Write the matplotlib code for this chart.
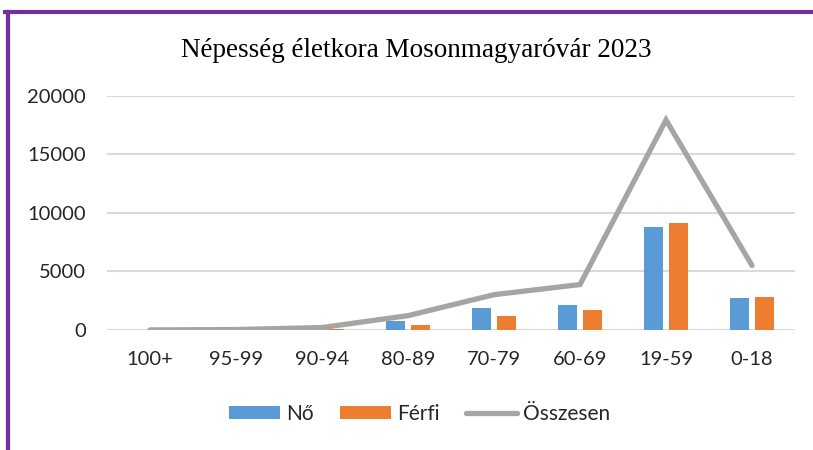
import matplotlib.pyplot as plt
from matplotlib.lines import Line2D
from matplotlib.patches import Patch
import numpy as np

# --- adatok ---
korcsoportok = ["100+", "95-99", "90-94", "80-89", "70-79", "60-69", "19-59", "0-18"]
no = [4, 30, 150, 800, 1850, 2150, 8800, 2700]
ferfi = [1, 10, 60, 425, 1165, 1730, 9130, 2805]
osszesen = [5, 40, 210, 1225, 3015, 3880, 17930, 5505]

KEK = "#5B9BD5"
NARANCS = "#ED7D31"
SZURKE = "#A5A5A5"
RACS = "#D9D9D9"
SZOVEG = "#262626"

plt.rcParams['font.family'] = ['Lato', 'DejaVu Sans']

fig = plt.figure(figsize=(8.13, 4.5), dpi=100)
# rajzterület: x 107..795 px, y 0 -> 330 px, 20000 -> 95.7 px
ax = fig.add_axes([107 / 813, 120 / 450, 688 / 813, 234.3 / 450])

x = np.arange(len(korcsoportok))
w = 0.221
ax.bar(x - 0.141, no, width=w, color=KEK, zorder=2)
ax.bar(x + 0.141, ferfi, width=w, color=NARANCS, zorder=2)
ax.plot(x, osszesen, color=SZURKE, lw=3.8,
        solid_capstyle="round", solid_joinstyle="miter", zorder=3)

ax.set_xlim(-0.5, len(korcsoportok) - 0.5)
ax.set_ylim(0, 20000)
ax.set_yticks([0, 5000, 10000, 15000, 20000])
ax.set_xticks(x)
ax.set_xticklabels(korcsoportok)
ax.tick_params(axis='y', length=0, pad=15, labelsize=14.5, colors=SZOVEG)
ax.tick_params(axis='x', length=0, pad=15, labelsize=14.5, colors=SZOVEG)
ax.yaxis.grid(True, color=RACS, lw=1.5, zorder=0)
ax.set_axisbelow(True)
for s in ax.spines.values():
    s.set_visible(False)

fig.text(416 / 813, (450 - 57) / 450, "Népesség életkora Mosonmagyaróvár 2023",
         ha='center', va='baseline', fontsize=19.5, family='Liberation Serif',
         color="#000000")

kezelok = [Patch(facecolor=KEK, label="Nő"),
           Patch(facecolor=NARANCS, label="Férfi"),
           Line2D([], [], color=SZURKE, lw=3.8, solid_capstyle="round", label="Összesen")]
fig.legend(handles=kezelok, loc='center', bbox_to_anchor=(419.5 / 813, (450 - 414) / 450),
           ncol=3, frameon=False, fontsize=15, labelcolor=SZOVEG,
           handlelength=2.45, handleheight=0.63, handletextpad=0.3,
           columnspacing=1.25, borderpad=0)

# lila keret (bal és felső)
fig.add_artist(Line2D([5 / 813, 1], [(450 - 12) / 450] * 2, color="#7030A0",
                      lw=3, transform=fig.transFigure))
fig.add_artist(Line2D([8 / 813] * 2, [0, (450 - 12) / 450], color="#7030A0",
                      lw=3, transform=fig.transFigure))

fig.savefig("out.png", dpi=100, facecolor="white")
